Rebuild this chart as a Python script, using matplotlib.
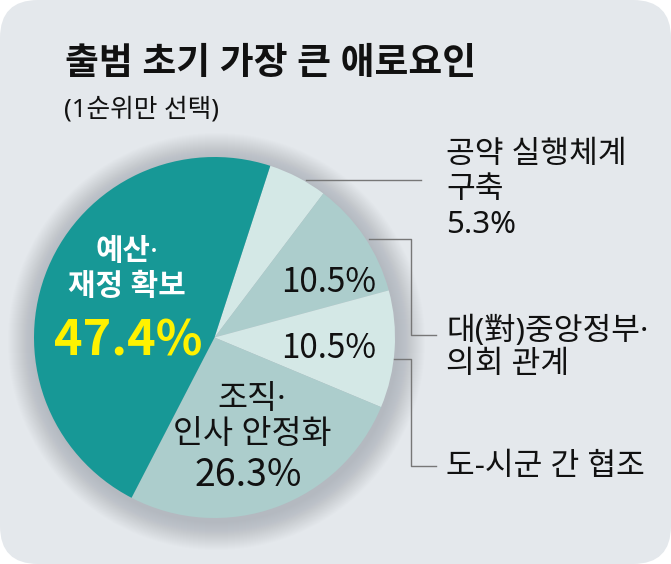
import matplotlib
matplotlib.use("Agg")
import matplotlib.pyplot as plt
from matplotlib.patches import FancyBboxPatch, Circle

# Latin family first so "·" and parentheses stay narrow; Hangul falls back to CJK
plt.rcParams["font.family"] = ["Noto Sans", "Noto Sans CJK KR", "DejaVu Sans"]
CJK = ["Noto Sans CJK KR", "DejaVu Sans"]

# data
categories = ["공약 실행체계\n구축", "대(對)중앙정부·\n의회 관계", "도-시군 간 협조",
              "조직·\n인사 안정화", "예산·\n재정 확보"]
shares = [5.3, 10.5, 10.5, 26.3, 47.4]
slice_colors = ["#d4e8e6", "#accdcc", "#d4e8e6", "#accdcc", "#179896"]

title = "출범 초기 가장 큰 애로요인"
subtitle = "(1순위만 선택)"

W, H = 671, 564
fig = plt.figure(figsize=(W / 100, H / 100), dpi=100)
fig.patch.set_facecolor("white")
ax = fig.add_axes([0, 0, 1, 1])


def Y(y):
    # image-style y (from top) to axes y
    return H - y


bg = FancyBboxPatch((0, 0), W, H, boxstyle="round,pad=0,rounding_size=38",
                    facecolor="#e4e8ec", edgecolor="none", zorder=0)
ax.add_patch(bg)

cx, cy, r = 214.5, Y(337.5), 180.5

# soft shadow round the pie
for i in range(28):
    ax.add_patch(Circle((cx + 2, cy - 4), r + 1 + i * 1.0, facecolor="#7d848e",
                        edgecolor="none", alpha=0.016, zorder=1))

wedges, _ = ax.pie(shares, colors=slice_colors, startangle=72, counterclock=False,
                   center=(cx, cy), radius=r,
                   wedgeprops=dict(edgecolor="none"))
for w in wedges:
    w.set_zorder(3)

ax.set_xlim(0, W)
ax.set_ylim(0, H)
ax.set_aspect("equal")
ax.axis("off")

dark = "#111111"

# titles
ax.text(65, Y(65), title, fontsize=26.5, fontweight="bold", color=dark,
        ha="left", va="center", zorder=5)
ax.text(64, Y(110), subtitle, fontsize=18.5, color=dark,
        ha="left", va="center", zorder=5)

# labels inside pie
ax.text(127, Y(270), categories[4], fontsize=21.5, fontweight="bold", color="white",
        ha="center", va="center", linespacing=1.25, zorder=5)
ax.text(128, Y(341), f"{shares[4]}%", fontsize=35, fontweight="bold", color="#fff200",
        family=CJK, ha="center", va="center", zorder=5)
ax.text(329, Y(282), f"{shares[1]}%", fontsize=24, fontweight="medium", color=dark,
        family=CJK, ha="center", va="center", zorder=5)
ax.text(329, Y(348), f"{shares[2]}%", fontsize=24, fontweight="medium", color=dark,
        family=CJK, ha="center", va="center", zorder=5)
ax.text(252, Y(417), categories[3], fontsize=23.5, color=dark,
        ha="center", va="center", linespacing=1.1, zorder=5)
ax.text(248, Y(476), f"{shares[3]}%", fontsize=27, fontweight="medium", color=dark,
        family=CJK, ha="center", va="center", zorder=5)

# right side labels
ax.text(446, Y(190), categories[0] + f"\n{shares[0]}%", fontsize=22.5, color=dark,
        ha="left", va="center", linespacing=1.22, zorder=5)
ax.text(446, Y(348), categories[1], fontsize=22.5, color=dark,
        ha="left", va="center", linespacing=1.15, zorder=5)
ax.text(446, Y(467), categories[2], fontsize=22.5, color=dark,
        ha="left", va="center", zorder=5)

# leader lines
line_kw = dict(color="#777777", lw=1.0, zorder=4)
ax.plot([306, 421], [Y(180), Y(180)], **line_kw)
ax.plot([369, 411, 411, 436], [Y(239), Y(239), Y(335), Y(335)], **line_kw)
ax.plot([394, 411, 411, 436], [Y(359), Y(359), Y(466), Y(466)], **line_kw)

fig.savefig("out.png", dpi=100, facecolor=fig.get_facecolor())
